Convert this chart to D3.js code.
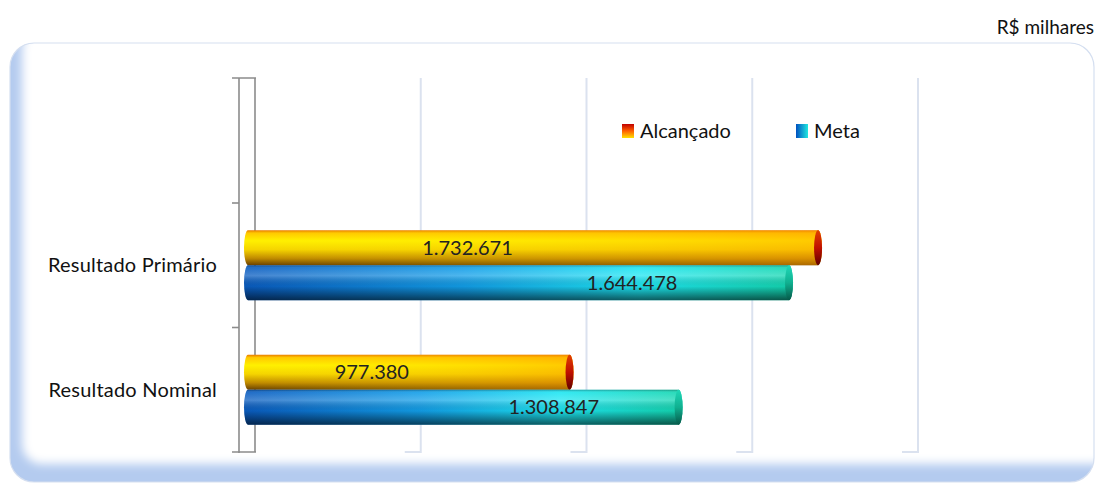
<html>
<head>
<meta charset="utf-8">
<script src="https://cdnjs.cloudflare.com/ajax/libs/d3/7.8.5/d3.min.js"></script>
<style>
  body { margin: 0; background: #fff; }
  text { font-family: Lato, "Open Sans", sans-serif; fill: #111; }
</style>
</head>
<body>
<svg id="chart" width="1096" height="483"></svg>
<script>
// data (R$ milhares)
var categories = ["Resultado Primário", "Resultado Nominal"];
var series = ["Alcançado", "Meta"];
var alcancado = [1732671, 977380];
var meta = [1644478, 1308847];
var xTicks = [0, 500000, 1000000, 1500000, 2000000];
var unitLabel = "R$ milhares";

var svg = d3.select("#chart");
var defs = svg.append("defs");
var fmt = function(v) { return d3.format(",")(v).replace(/,/g, "."); };

// outer frame with soft blue shading on left/bottom
var frame = { x: 10, y: 43, w: 1084, h: 439, r: 24 };
defs.append("clipPath").attr("id", "frameClip").append("rect")
  .attr("x", frame.x).attr("y", frame.y).attr("width", frame.w).attr("height", frame.h)
  .attr("rx", frame.r);
defs.append("filter").attr("id", "soft").attr("x", "-10%").attr("y", "-10%")
  .attr("width", "120%").attr("height", "120%")
  .append("feGaussianBlur").attr("stdDeviation", 5);

var fg = svg.append("g").attr("clip-path", "url(#frameClip)");
fg.append("rect").attr("x", frame.x).attr("y", frame.y).attr("width", frame.w)
  .attr("height", frame.h).attr("fill", "#b4cbef");
fg.append("rect").attr("x", frame.x + 12).attr("y", frame.y - 14)
  .attr("width", frame.w + 10).attr("height", frame.h - 4)
  .attr("rx", 20).attr("fill", "#fff").attr("filter", "url(#soft)");
svg.append("rect").attr("x", frame.x).attr("y", frame.y).attr("width", frame.w)
  .attr("height", frame.h).attr("rx", frame.r).attr("fill", "none")
  .attr("stroke", "#d5dff0").attr("stroke-width", 1.2);

svg.append("text").attr("x", 1094).attr("y", 34).attr("text-anchor", "end")
  .style("font-size", "19px").text(unitLabel);

// scales
var plotTop = 78, plotBottom = 452, depth = 16;
var x = d3.scaleLinear().domain([0, 2000000]).range([255, 918]);
var xBar = d3.scaleLinear().domain([0, 2000000]).range([248, 906]);
var y = d3.scaleBand().domain(categories).range([203, 452]);
var ySub = d3.scaleBand().domain(series).range([y.bandwidth() / 2 - 35, y.bandwidth() / 2 + 35]);

// gridlines (back wall + floor edge)
var grid = svg.append("g");
grid.selectAll("path.grid").data(xTicks.slice(1)).enter().append("path")
  .attr("class", "grid")
  .attr("d", function(d) { return "M" + x(d) + "," + plotTop + "V" + plotBottom + "H" + (x(d) - depth); })
  .attr("fill", "none").attr("stroke", "#dbe2ef").attr("stroke-width", 2);

// side wall
var wallX = x(0), frontX = x(0) - depth;
grid.append("path")
  .attr("d", "M" + (frontX - 7) + "," + plotTop + "H" + (wallX + 1) + "M" + wallX + "," + plotTop + "V" + plotBottom +
    "M" + frontX + "," + plotTop + "V" + (plotBottom + 1) + "M" + (frontX - 7) + "," + plotBottom + "H" + (wallX + 1))
  .attr("fill", "none").attr("stroke", "#8c8c8c").attr("stroke-width", 1.6);
grid.selectAll("line.tick").data(categories).enter().append("line")
  .attr("class", "tick")
  .attr("x1", frontX - 7).attr("x2", frontX)
  .attr("y1", function(d) { return y(d); }).attr("y2", function(d) { return y(d); })
  .attr("stroke", "#8c8c8c").attr("stroke-width", 1.6);

// category labels
svg.selectAll("text.cat").data(categories).enter().append("text")
  .attr("class", "cat")
  .attr("x", 217).attr("y", function(d) { return y(d) + y.bandwidth() / 2 + 7; })
  .attr("text-anchor", "end").style("font-size", "20px").style("letter-spacing", "0.2px")
  .text(function(d) { return d; });

// gradients
function linGrad(id, x2, y2, stops) {
  var g = defs.append("linearGradient").attr("id", id)
    .attr("x1", 0).attr("y1", 0).attr("x2", x2).attr("y2", y2);
  stops.forEach(function(s) {
    g.append("stop").attr("offset", s[0]).attr("stop-color", s[1]).attr("stop-opacity", s[2] == null ? 1 : s[2]);
  });
}
linGrad("gAlc", 0, 1, [["0%", "#e87800"], ["8%", "#ffc800"], ["30%", "#fff000"], ["55%", "#f5d400"], ["80%", "#c08a00"], ["100%", "#6a4000"]]);
linGrad("gAlcH", 1, 0, [["0%", "#fff200", 0], ["100%", "#ff9a00", 0.45]]);
linGrad("gMeta", 1, 0, [["0%", "#0a5cc0"], ["40%", "#129ee8"], ["72%", "#1ee6f2"], ["100%", "#14d6b0"]]);
linGrad("gShade", 0, 1, [["0%", "#000", 0.3], ["8%", "#fff", 0.1], ["30%", "#fff", 0.25], ["60%", "#000", 0.05], ["100%", "#000", 0.6]]);
linGrad("capAlc", 0, 1, [["0%", "#e04000"], ["50%", "#c01000"], ["100%", "#600000"]]);
linGrad("capMeta", 0, 1, [["0%", "#20d8b8"], ["50%", "#10b090"], ["100%", "#055848"]]);
linGrad("legAlc", 0, 1, [["0%", "#c00000"], ["50%", "#ff6000"], ["100%", "#ffe000"]]);
linGrad("legMeta", 1, 0, [["0%", "#0050c0"], ["100%", "#20e8e0"]]);

var styles = {
  "Alcançado": { fills: ["url(#gAlc)", "url(#gAlcH)"], cap: "url(#capAlc)", labelAt: 0.385 },
  "Meta": { fills: ["url(#gMeta)", "url(#gShade)"], cap: "url(#capMeta)", labelAt: 0.71 }
};

var rows = [];
categories.forEach(function(c, i) {
  rows.push({ cat: c, s: "Alcançado", v: alcancado[i] });
  rows.push({ cat: c, s: "Meta", v: meta[i] });
});

var rx = 4, bh = ySub.bandwidth();
var bars = svg.selectAll("g.bar").data(rows).enter().append("g").attr("class", "bar")
  .attr("transform", function(d) { return "translate(0," + (y(d.cat) + ySub(d.s)) + ")"; });

bars.each(function(d) {
  var g = d3.select(this);
  var x0 = xBar(0), x1 = xBar(d.v);
  styles[d.s].fills.forEach(function(f) {
    g.append("rect").attr("x", x0 - rx).attr("y", 0).attr("width", x1 - x0 + 2 * rx)
      .attr("height", bh).attr("rx", rx).attr("ry", bh / 2).attr("fill", f);
  });
  g.append("ellipse").attr("cx", x1).attr("cy", bh / 2).attr("rx", rx).attr("ry", bh / 2)
    .attr("fill", styles[d.s].cap);
  g.append("text")
    .attr("x", x0 + (x1 - x0) * styles[d.s].labelAt).attr("y", bh / 2 + 7)
    .attr("text-anchor", "middle").style("font-size", "20px").style("fill", "#222")
    .text(fmt(d.v));
});

// legend
var legend = svg.selectAll("g.leg").data(series).enter().append("g").attr("class", "leg")
  .attr("transform", function(d, i) { return "translate(" + (622 + i * 174) + ",124)"; });
legend.append("rect").attr("width", 12).attr("height", 14)
  .attr("fill", function(d) { return d == "Alcançado" ? "url(#legAlc)" : "url(#legMeta)"; });
legend.append("text").attr("x", 18).attr("y", 14).style("font-size", "20px")
  .text(function(d) { return d; });
</script>
</body>
</html>
